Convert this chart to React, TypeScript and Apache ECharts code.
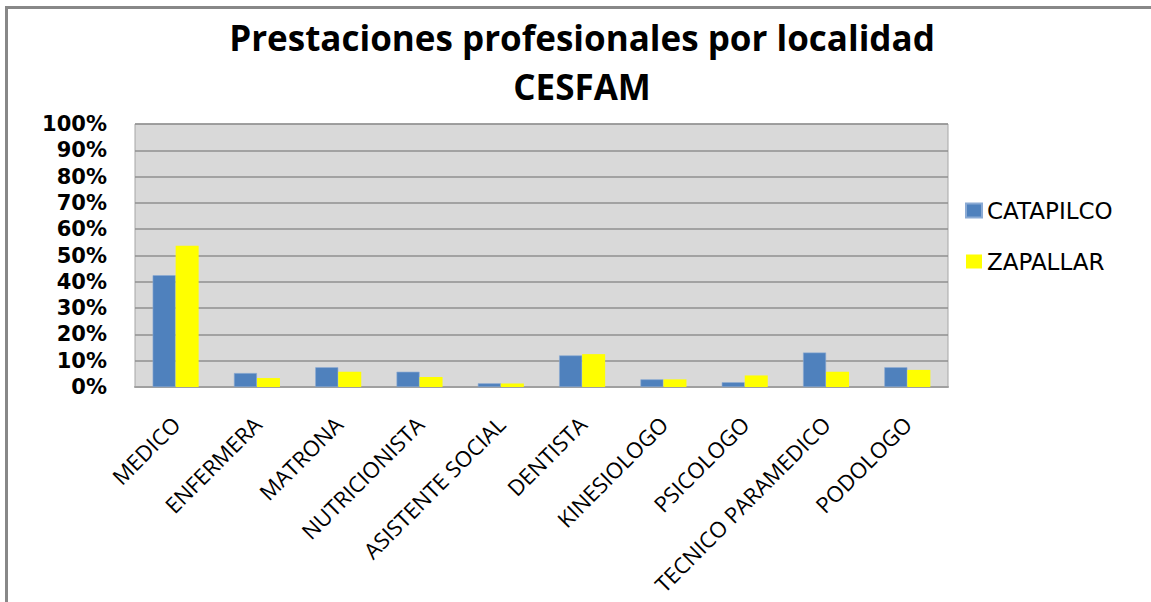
import React, { useEffect, useRef } from "react";
import * as echarts from "echarts";

const categories = [
  "MEDICO",
  "ENFERMERA",
  "MATRONA",
  "NUTRICIONISTA",
  "ASISTENTE SOCIAL",
  "DENTISTA",
  "KINESIOLOGO",
  "PSICOLOGO",
  "TECNICO PARAMEDICO",
  "PODOLOGO",
];
const catapilco = [0.425, 0.053, 0.075, 0.058, 0.014, 0.12, 0.029, 0.018, 0.131, 0.075];
const zapallar = [0.537, 0.034, 0.058, 0.038, 0.013, 0.125, 0.029, 0.044, 0.058, 0.065];
const seriesNames = ["CATAPILCO", "ZAPALLAR"];
const titleLines = ["Prestaciones profesionales por localidad", "CESFAM"];

export default function App() {
  const ref = useRef<HTMLDivElement>(null);
  useEffect(() => {
    document.body.style.margin = "0";
    if (!ref.current) return;
    const chart = echarts.init(ref.current, null, { renderer: "svg" });
    const titleStyle = {
      fontFamily: "Open Sans",
      fontWeight: "bold",
      fontSize: 35,
      lineHeight: 38,
      color: "#000000",
    };
    chart.setOption({
      animation: false,
      backgroundColor: "#ffffff",
      graphic: [
        {
          type: "rect",
          shape: { x: 6.5, y: 7.5, width: 1400, height: 800 },
          style: { fill: "none", stroke: "#888888", lineWidth: 3 },
          silent: true,
        },
      ],
      title: [
        {
          text: titleLines[0],
          left: 582,
          top: 18,
          padding: 0,
          textAlign: "center",
          textStyle: titleStyle,
        },
        {
          text: titleLines[1],
          left: 582,
          top: 67,
          padding: 0,
          textAlign: "center",
          textStyle: titleStyle,
        },
      ],
      legend: {
        orient: "vertical",
        left: 960,
        top: 194,
        itemWidth: 16,
        itemHeight: 14,
        itemGap: 28,
        icon: "rect",
        data: seriesNames,
        textStyle: {
          fontFamily: "DejaVu Sans",
          fontSize: 23,
          color: "#000000",
          padding: [0, 0, 0, 0],
        },
      },
      grid: {
        left: 135,
        top: 124,
        right: 203,
        bottom: 215,
        show: true,
        backgroundColor: "#d9d9d9",
        borderColor: "#a6a6a6",
        borderWidth: 1,
      },
      xAxis: {
        type: "category",
        data: categories,
        axisTick: { show: false },
        axisLine: { show: true, lineStyle: { color: "#a0a0a0", width: 2 } },
        axisLabel: {
          rotate: 45,
          interval: 0,
          margin: 33,
          fontFamily: "Open Sans",
          fontSize: 22,
          color: "#000000",
        },
      },
      yAxis: {
        type: "value",
        min: 0,
        max: 1,
        interval: 0.1,
        axisLine: { show: false },
        axisTick: { show: false },
        splitLine: { lineStyle: { color: "#8f8f8f", width: 1.5 } },
        axisLabel: {
          margin: 28,
          fontFamily: "DejaVu Sans",
          fontWeight: "bold",
          fontSize: 21,
          color: "#000000",
          formatter: (v: number) => Math.round(v * 100) + "%",
        },
      },
      series: [
        {
          name: seriesNames[0],
          type: "bar",
          data: catapilco,
          barWidth: 23,
          barGap: "0%",
          itemStyle: { color: "#4f81bd", borderColor: "#8aaad4", borderWidth: 0.6 },
        },
        {
          name: seriesNames[1],
          type: "bar",
          data: zapallar,
          barWidth: 23,
          barGap: "0%",
          itemStyle: { color: "#ffff00" },
        },
      ],
    });
    return () => chart.dispose();
  }, []);
  return <div ref={ref} style={{ width: 1151, height: 602 }} />;
}
